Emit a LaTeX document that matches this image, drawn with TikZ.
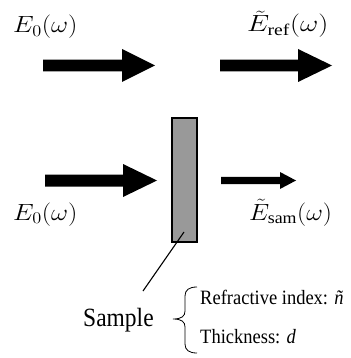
\documentclass[tikz,border=0pt]{standalone}
\usepackage{fontspec}
\setmainfont{Liberation Serif}
\definecolor{samplegray}{RGB}{153,153,153}
% x0, x head base, x tip, y centre, shaft half width, head half width
\newcommand{\fatarrow}[6]{%
  \fill (#1,#4-#5) -- (#2,#4-#5) -- (#2,#4-#6) -- (#3,#4) -- (#2,#4+#6) -- (#2,#4+#5) -- (#1,#4+#5) -- cycle;}
\tikzset{
  mathlabel/.style={font=\fontsize{20.74}{24}\selectfont, inner sep=0pt, anchor=base west},
  textlabel/.style={inner sep=0pt, anchor=base west},
  samplebox/.style={draw=black, line width=1.3pt, fill=samplegray, minimum width=25pt, minimum height=124pt, inner sep=0pt},
  thinline/.style={line width=1.1pt},
}
\begin{document}
\begin{tikzpicture}[x=1pt,y=-1pt]
\useasboundingbox (0,0) rectangle (350,358);
% arrows
\fatarrow{43}{122}{155}{65.5}{5.8}{16.5}
\fatarrow{220}{298}{332}{65.5}{5.8}{16.5}
\fatarrow{45}{123}{157}{180.5}{6}{16.5}
\fatarrow{221}{280}{296}{180.5}{3.6}{8.5}
% labels
\node[mathlabel] (e0top) at (13,33) {\scalebox{1.27}[1.13]{$E_0(\omega)$}};
\node[mathlabel] (eref) at (247,32) {\scalebox{1.36}[1.13]{$\tilde{E}_{\mathrm{ref}}(\omega)$}};
\node[mathlabel] (e0bot) at (13,220) {\scalebox{1.27}[1.13]{$E_0(\omega)$}};
\node[mathlabel] (esam) at (249,220) {\scalebox{1.24}[1.13]{$\tilde{E}_{\mathrm{sam}}(\omega)$}};
% sample
\node[samplebox] (sample) at (184.5,180) {};
\coordinate (lnA) at (184,232);
\coordinate (lnB) at (143,291);
\draw[thinline] (lnA) -- (lnB);
\node[textlabel, font=\fontsize{23.5}{28}\selectfont] (samplelabel) at (83,326) {\scalebox{1}[1.12]{Sample}};
% brace
\draw[line width=0.8pt] (197,287) .. controls (189,287) and (185,290) .. (185,296) -- (185,311)
  .. controls (185,316) and (182,319) .. (173,319)
  .. controls (182,319) and (185,322) .. (185,327) -- (185,344)
  .. controls (185,350) and (189,353) .. (197,353);
\node[textlabel, font=\fontsize{18.5}{22}\selectfont] (refr) at (200,304) {\scalebox{1}[1.1]{Refractive index: \textit{ñ}}};
\node[textlabel, font=\fontsize{18.5}{22}\selectfont] (thick) at (200,343) {\scalebox{1}[1.1]{Thickness: \textit{d}}};
\end{tikzpicture}
\end{document}
